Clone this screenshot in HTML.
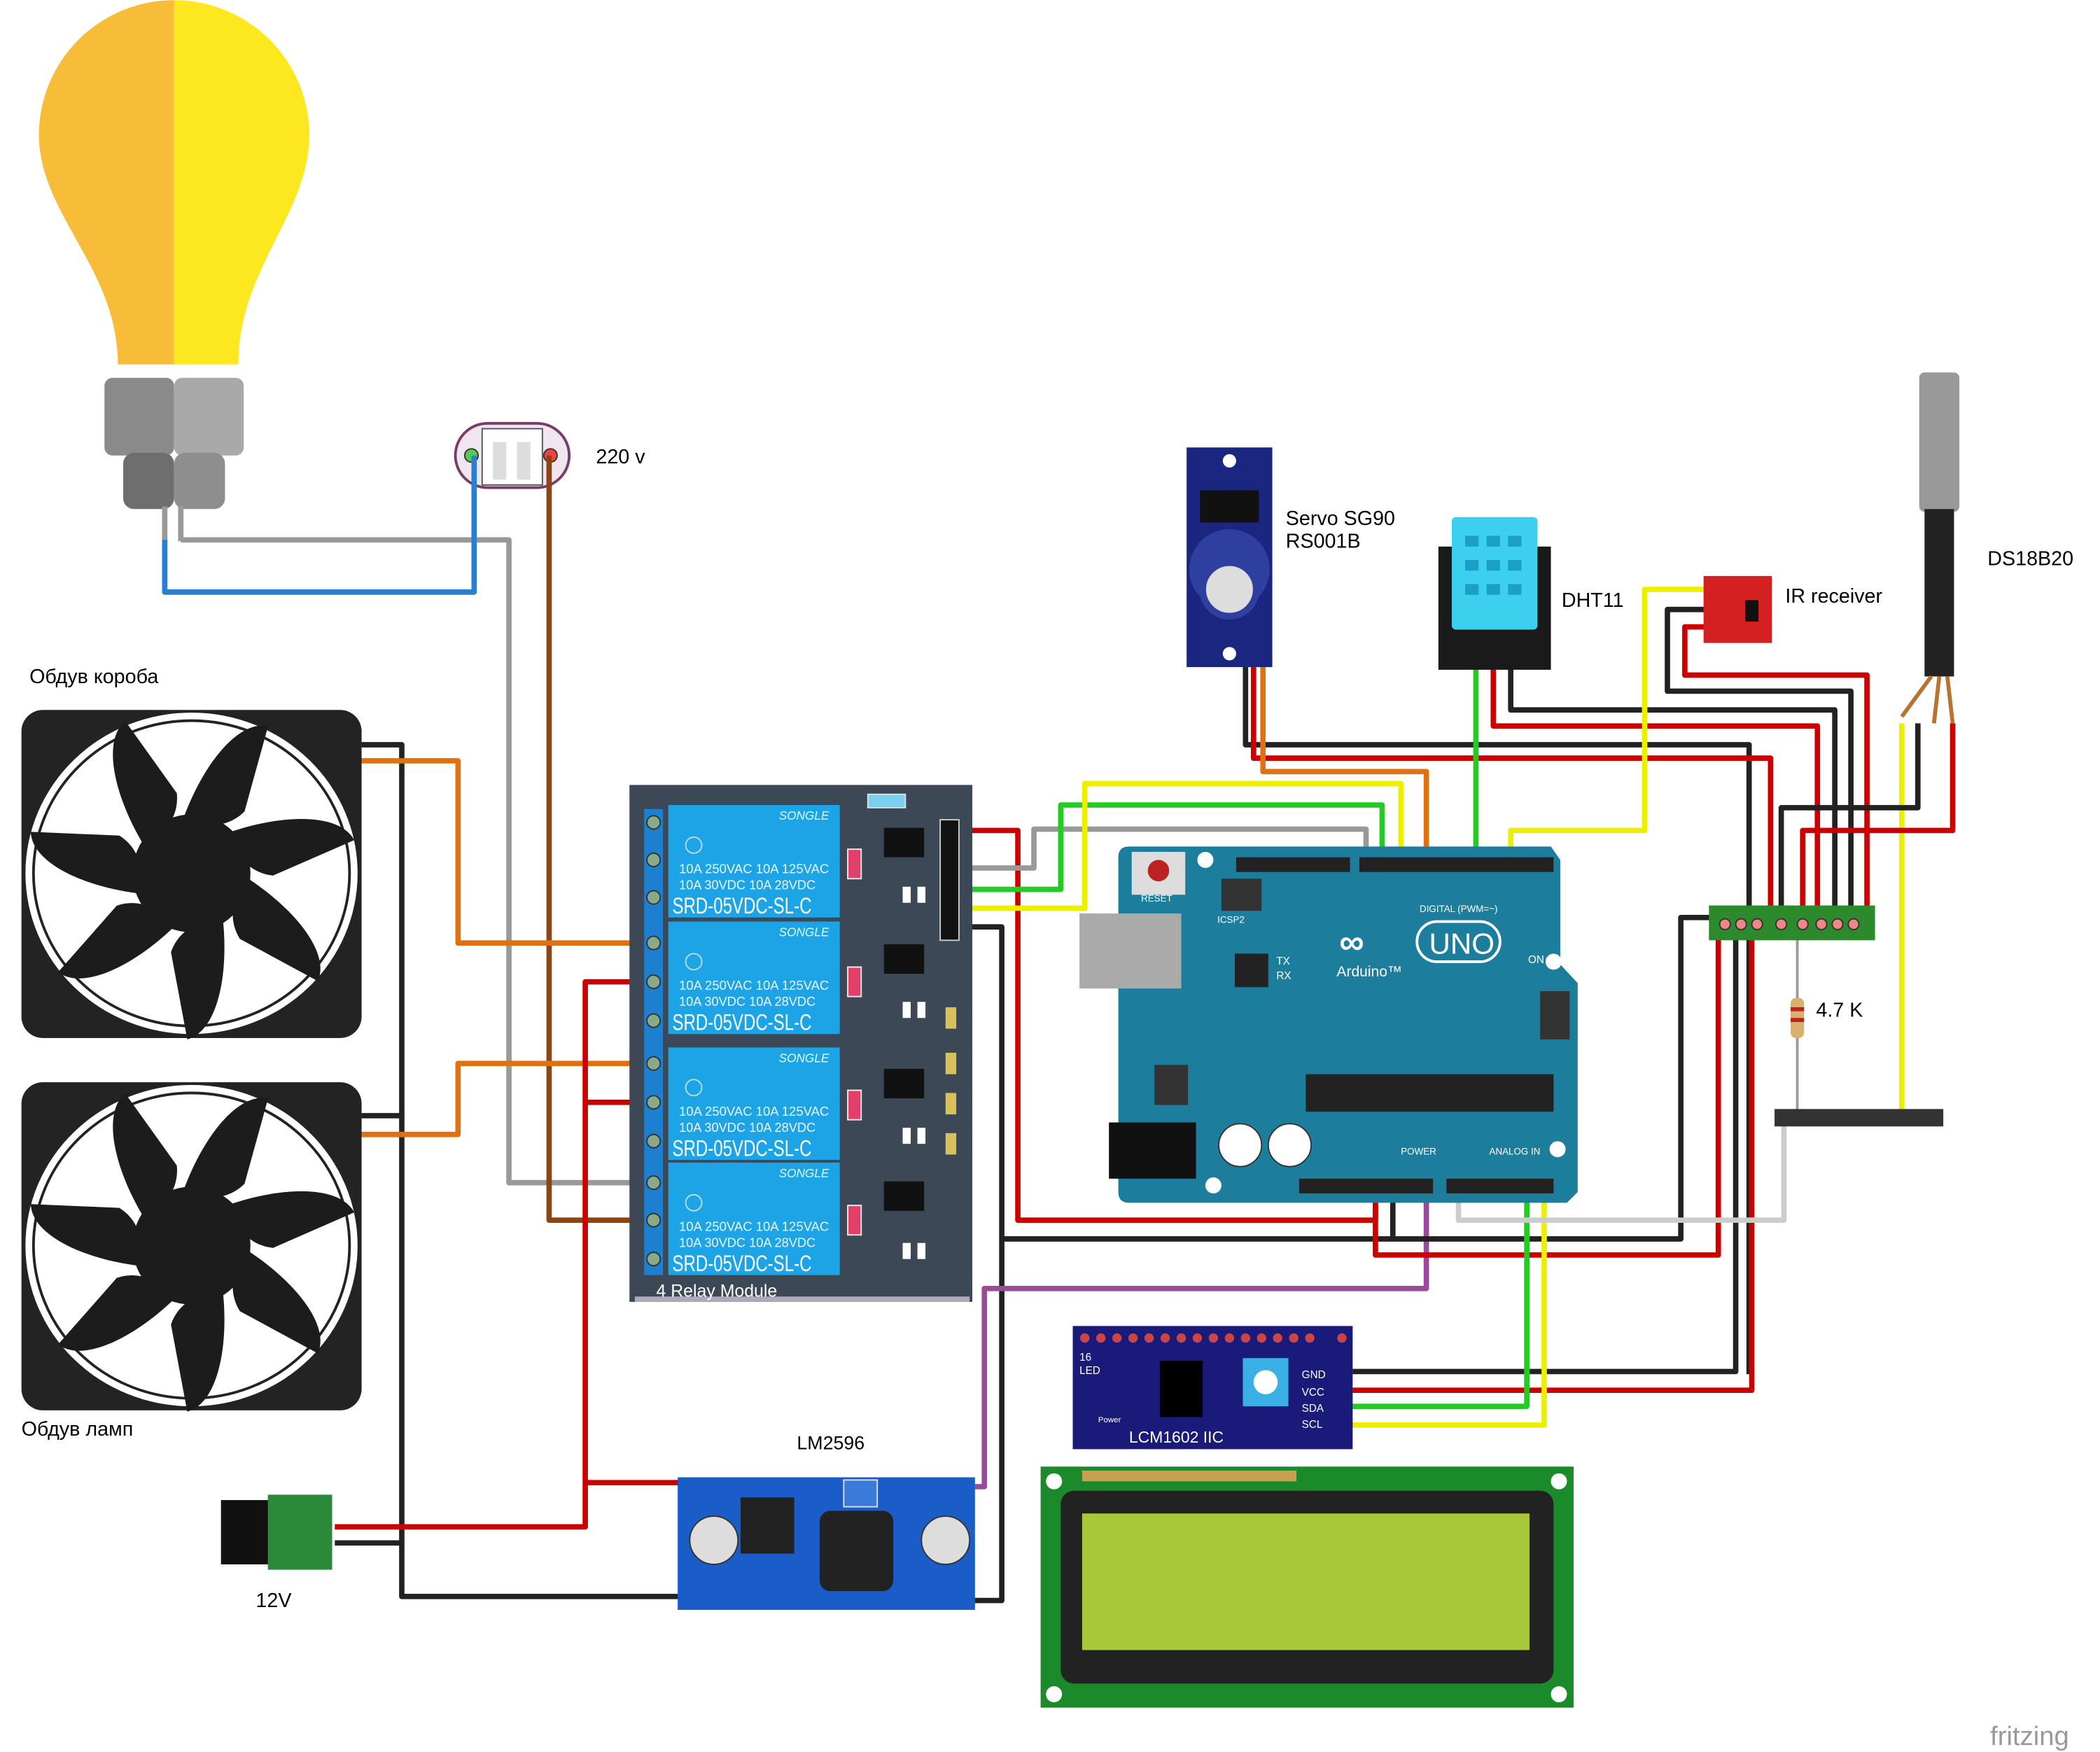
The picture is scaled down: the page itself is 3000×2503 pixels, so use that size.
<!DOCTYPE html>
<html><head><meta charset="utf-8"><style>html,body{margin:0;padding:0;background:#fff}svg{display:block}</style></head>
<body>
<svg width="3000" height="2503" viewBox="0 0 1568 1308" xmlns="http://www.w3.org/2000/svg" font-family="Liberation Sans, DejaVu Sans, sans-serif">
<defs>
<g id="blade"><path d="M-6,-36 C8,-75 32,-104 52,-100 L36,-42 C26,-32 12,-30 -6,-36 Z" fill="#1c1c1c"/></g>
<g id="fan">
<rect x="0" y="0" width="254" height="245" rx="16" fill="#232323"/>
<ellipse cx="127" cy="122" rx="124" ry="120" fill="#fff"/>
<ellipse cx="127" cy="122" rx="118" ry="114" fill="#fff" stroke="#232323" stroke-width="2"/>
<g transform="translate(127,122)">
<use href="#blade" transform="rotate(0) scale(1.1)"/><use href="#blade" transform="rotate(51) scale(1.1)"/><use href="#blade" transform="rotate(103) scale(1.1)"/><use href="#blade" transform="rotate(154) scale(1.1)"/><use href="#blade" transform="rotate(206) scale(1.1)"/><use href="#blade" transform="rotate(257) scale(1.1)"/><use href="#blade" transform="rotate(309) scale(1.1)"/>
<circle r="44" fill="#1c1c1c"/></g>
</g>
<g id="relay">
<rect x="0" y="0" width="128" height="84" fill="#1ca4e6"/>
<text x="120" y="11" font-size="9" fill="#dff" font-style="italic" text-anchor="end">SONGLE</text>
<circle cx="19" cy="30" r="6" fill="none" stroke="#bde"/>
<text x="8" y="51" font-size="9.5" fill="#eaf6ff" textLength="112" lengthAdjust="spacingAndGlyphs">10A 250VAC  10A 125VAC</text>
<text x="8" y="63" font-size="9.5" fill="#eaf6ff" textLength="102" lengthAdjust="spacingAndGlyphs">10A  30VDC  10A  28VDC</text>
<text x="3" y="81" font-size="17" fill="#fff" textLength="104" lengthAdjust="spacingAndGlyphs">SRD-05VDC-SL-C</text>
</g>
</defs>

<!-- Bulb -->
<path d="M130,0 A101,101 0 0 0 29,100 C29,160 88,200 88,272 L130,272 Z" fill="#f8bd38"/>
<path d="M130,0 A101,101 0 0 1 231,100 C231,160 178,200 178,272 L130,272 Z" fill="#fde81f"/>
<rect x="78" y="282" width="52" height="58" rx="6" fill="#8a8a8a"/><rect x="130" y="282" width="52" height="58" rx="6" fill="#a9a9a9"/>
<rect x="92" y="338" width="38" height="42" rx="8" fill="#6e6e6e"/><rect x="130" y="338" width="38" height="42" rx="8" fill="#8e8e8e"/>
<rect x="121" y="378" width="4" height="26" fill="#999"/><rect x="133" y="378" width="4" height="26" fill="#999"/>

<!-- 220v connector -->
<rect x="340" y="316" width="85" height="48" rx="24" fill="#f0e6f0" stroke="#7a3a6a" stroke-width="2"/>
<rect x="360" y="320" width="45" height="42" fill="#fff" stroke="#555"/>
<rect x="368" y="330" width="10" height="28" fill="#ddd"/><rect x="386" y="330" width="10" height="28" fill="#ddd"/>
<circle cx="352" cy="340" r="5" fill="#5c5" stroke="#333"/><circle cx="411" cy="340" r="5" fill="#e44" stroke="#333"/>
<text x="445" y="346" font-size="15">220 v</text>

<!-- wires -->
<g fill="none" stroke-width="4" stroke-linejoin="round">
<path d="M135,403 H380 V883 H490" stroke="#999"/>
<path d="M123,403 V442 H354 V340" stroke="#2a7fd0"/>
<path d="M410,340 V911 H490" stroke="#8b4513"/>
<path d="M270,556 H300 V1192 H510" stroke="#222"/>
<path d="M270,833 H300" stroke="#222"/>
<path d="M270,568 H342 V704 H490" stroke="#e07010"/>
<path d="M270,847 H342 V794 H490" stroke="#e07010"/>
<path d="M250,1140 H437 V733 H490" stroke="#c00"/>
<path d="M437,823 H490" stroke="#c00"/>
<path d="M437,1107 H515" stroke="#c00"/>
<path d="M250,1152 H300" stroke="#222"/>
<path d="M712,620 H760 V911 H1027 V885" stroke="#c00"/>
<path d="M712,648 H772 V619 H1020 V640" stroke="#999"/>
<path d="M712,664 H792 V601 H1032 V640" stroke="#2c2"/>
<path d="M712,678 H810 V585 H1046 V640" stroke="#ee0"/>
<path d="M712,692 H748 V1195 H720" stroke="#222"/>
<path d="M748,925 H1040 V885" stroke="#222"/>
<path d="M728,1110 H735 V962 H1065 V885" stroke="#9a4a9a"/>
<path d="M930,498 V556 H1306 V1026" stroke="#222"/>
<path d="M936,498 V566 H1322 V690" stroke="#c00"/>
<path d="M943,498 V576 H1065 V640" stroke="#e07010"/>
<path d="M1102,490 V640" stroke="#2c2"/>
<path d="M1115,490 V542 H1357 V690" stroke="#c00"/>
<path d="M1128,490 V530 H1370 V690" stroke="#222"/>
<path d="M1278,440 H1228 V620 H1128 V640" stroke="#ee0"/>
<path d="M1278,455 H1245 V516 H1382 V690" stroke="#222"/>
<path d="M1278,468 H1258 V504 H1394 V690" stroke="#c00"/>
<path d="M1420,540 V835" stroke="#ee0"/>
<path d="M1432,540 V603 H1330 V690" stroke="#222"/>
<path d="M1458,540 V620 H1346 V690" stroke="#c00"/>
<path d="M1295,685 H1255 V925 H1040" stroke="#222"/>
<path d="M1283,690 V937 H1027 V885" stroke="#c00"/>
<path d="M1296,690 V1024 H1010" stroke="#222"/>
<path d="M1308,690 V1038 H1010" stroke="#c00"/>
<path d="M1140,885 V1050 H1010" stroke="#2c2"/>
<path d="M1153,885 V1064 H1010" stroke="#ee0"/>
<path d="M1089,885 V911 H1332 V835" stroke="#ccc"/>
</g>
<line x1="1342" y1="700" x2="1342" y2="835" stroke="#999" stroke-width="2"/>

<!-- Fans -->
<use href="#fan" x="16" y="530"/>
<use href="#fan" x="16" y="808"/>
<text x="22" y="510" font-size="15">Обдув короба</text>
<text x="16" y="1072" font-size="15">Обдув ламп</text>

<!-- Relay module -->
<rect x="470" y="586" width="256" height="386" fill="#3d4857"/>
<rect x="474" y="968" width="250" height="4" fill="#aab"/>
<rect x="481" y="604" width="14" height="348" fill="#1c7fd0"/>
<g fill="#8a8" stroke="#333"><circle cx="488" cy="614" r="5"/><circle cx="488" cy="642" r="5"/><circle cx="488" cy="670" r="5"/><circle cx="488" cy="704" r="5"/><circle cx="488" cy="733" r="5"/><circle cx="488" cy="762" r="5"/><circle cx="488" cy="794" r="5"/><circle cx="488" cy="823" r="5"/><circle cx="488" cy="852" r="5"/><circle cx="488" cy="883" r="5"/><circle cx="488" cy="911" r="5"/><circle cx="488" cy="940" r="5"/></g>
<use href="#relay" x="499" y="601"/><use href="#relay" x="499" y="688"/><use href="#relay" x="499" y="782"/><use href="#relay" x="499" y="868"/>
<g fill="#111"><rect x="660" y="618" width="30" height="22"/><rect x="660" y="705" width="30" height="22"/><rect x="660" y="798" width="30" height="22"/><rect x="660" y="882" width="30" height="22"/></g>
<g fill="#e0406a" stroke="#eee"><rect x="633" y="634" width="10" height="22"/><rect x="633" y="722" width="10" height="22"/><rect x="633" y="814" width="10" height="22"/><rect x="633" y="900" width="10" height="22"/></g>
<g fill="#fff"><rect x="674" y="662" width="6" height="12"/><rect x="685" y="662" width="6" height="12"/><rect x="674" y="748" width="6" height="12"/><rect x="685" y="748" width="6" height="12"/><rect x="674" y="842" width="6" height="12"/><rect x="685" y="842" width="6" height="12"/><rect x="674" y="928" width="6" height="12"/><rect x="685" y="928" width="6" height="12"/></g>
<g fill="#d9c15a"><rect x="706" y="752" width="8" height="16"/><rect x="706" y="786" width="8" height="16"/><rect x="706" y="816" width="8" height="16"/><rect x="706" y="846" width="8" height="16"/></g>
<rect x="648" y="593" width="28" height="10" fill="#7cd0f0" stroke="#ddd"/>
<rect x="702" y="612" width="14" height="90" fill="#111" stroke="#ccc"/>
<text x="490" y="968" font-size="13" fill="#fff">4 Relay Module</text>

<!-- Arduino -->
<path d="M843,632 H1158 L1165,642 V720 L1178,734 V890 L1170,898 H843 Q835,898 835,890 V640 Q835,632 843,632 Z" fill="#1d7d9c"/>
<rect x="845" y="636" width="40" height="32" fill="#ddd"/><circle cx="865" cy="650" r="8" fill="#b22"/>
<rect x="923" y="640" width="85" height="11" fill="#222"/><rect x="1015" y="640" width="145" height="11" fill="#222"/>
<rect x="806" y="682" width="76" height="56" fill="#aaa"/>
<rect x="922" y="712" width="25" height="25" fill="#222"/>
<rect x="975" y="802" width="185" height="28" fill="#222"/>
<rect x="828" y="838" width="65" height="42" fill="#111"/>
<circle cx="926" cy="855" r="16" fill="#fff" stroke="#333"/><circle cx="963" cy="855" r="16" fill="#fff" stroke="#333"/>
<rect x="970" y="880" width="100" height="11" fill="#222"/><rect x="1080" y="880" width="80" height="11" fill="#222"/>
<rect x="1150" y="740" width="22" height="36" fill="#333"/>
<rect x="862" y="795" width="25" height="30" fill="#333"/>
<rect x="912" y="656" width="30" height="24" fill="#333"/>
<text x="1000" y="712" font-size="26" fill="#fff" font-weight="bold">∞</text>
<rect x="1058" y="688" width="62" height="30" rx="15" fill="none" stroke="#fff" stroke-width="2"/>
<text x="1067" y="712" font-size="22" fill="#fff">UNO</text>
<text x="998" y="729" font-size="11" fill="#fff">Arduino™</text>
<text x="1060" y="681" font-size="7" fill="#fff">DIGITAL (PWM=~)</text>
<text x="852" y="673" font-size="7" fill="#fff">RESET</text>
<text x="909" y="689" font-size="7" fill="#fff">ICSP2</text>
<text x="953" y="720" font-size="8" fill="#fff">TX</text><text x="953" y="731" font-size="8" fill="#fff">RX</text>
<text x="1141" y="719" font-size="8" fill="#fff">ON</text>
<text x="1046" y="862" font-size="7" fill="#fff">POWER</text><text x="1112" y="862" font-size="7" fill="#fff">ANALOG IN</text>
<circle cx="906" cy="885" r="6" fill="#fff"/><circle cx="1160" cy="718" r="6" fill="#fff"/><circle cx="1163" cy="858" r="6" fill="#fff"/><circle cx="900" cy="642" r="6" fill="#fff"/>

<!-- Servo -->
<rect x="886" y="334" width="64" height="164" fill="#1a2680"/>
<rect x="896" y="366" width="44" height="24" fill="#111"/>
<circle cx="918" cy="425" r="30" fill="#2f3fa0"/><circle cx="918" cy="440" r="20" fill="#ddd" stroke="#2f3fa0" stroke-width="5"/>
<circle cx="918" cy="344" r="5" fill="#fff"/><circle cx="918" cy="488" r="5" fill="#fff"/>
<text x="960" y="392" font-size="15">Servo SG90</text><text x="960" y="409" font-size="15">RS001B</text>

<!-- DHT11 -->
<rect x="1074" y="408" width="84" height="92" fill="#1a1a1a"/>
<rect x="1084" y="386" width="64" height="84" rx="3" fill="#3ccfee"/>
<g fill="#1a9fc8"><rect x="1094" y="400" width="10" height="8"/><rect x="1110" y="400" width="10" height="8"/><rect x="1126" y="400" width="10" height="8"/><rect x="1094" y="418" width="10" height="8"/><rect x="1110" y="418" width="10" height="8"/><rect x="1126" y="418" width="10" height="8"/><rect x="1094" y="436" width="10" height="8"/><rect x="1110" y="436" width="10" height="8"/><rect x="1126" y="436" width="10" height="8"/></g>
<text x="1166" y="453" font-size="15">DHT11</text>

<!-- IR -->
<rect x="1272" y="430" width="51" height="50" fill="#d42020"/>
<rect x="1303" y="448" width="10" height="16" fill="#111"/>
<text x="1333" y="450" font-size="15">IR receiver</text>

<!-- DS18B20 -->
<rect x="1433" y="278" width="30" height="104" rx="4" fill="#999"/>
<rect x="1437" y="380" width="22" height="125" fill="#222"/>
<path d="M1442,505 L1420,535 M1448,505 L1444,540 M1454,505 L1458,540" stroke="#b87333" stroke-width="3"/>
<text x="1484" y="422" font-size="15">DS18B20</text>

<!-- breadboard strips -->
<rect x="1276" y="676" width="124" height="26" fill="#2c8a2c"/>
<g fill="#e88" stroke="#333"><circle cx="1288" cy="690" r="4"/><circle cx="1300" cy="690" r="4"/><circle cx="1312" cy="690" r="4"/><circle cx="1330" cy="690" r="4"/><circle cx="1346" cy="690" r="4"/><circle cx="1360" cy="690" r="4"/><circle cx="1372" cy="690" r="4"/><circle cx="1384" cy="690" r="4"/></g>
<rect x="1325" y="828" width="126" height="13" fill="#333"/>
<rect x="1337" y="745" width="10" height="30" rx="4" fill="#d9b070"/>
<rect x="1337" y="752" width="10" height="3" fill="#b22"/><rect x="1337" y="760" width="10" height="3" fill="#b22"/>
<text x="1356" y="759" font-size="15">4.7 K</text>

<!-- LCM1602 IIC -->
<rect x="801" y="990" width="209" height="92" fill="#1a1a7a"/>
<g fill="#c44">
<circle cx="810" cy="999" r="3.5"/><circle cx="822" cy="999" r="3.5"/><circle cx="834" cy="999" r="3.5"/><circle cx="846" cy="999" r="3.5"/><circle cx="858" cy="999" r="3.5"/><circle cx="870" cy="999" r="3.5"/><circle cx="882" cy="999" r="3.5"/><circle cx="894" cy="999" r="3.5"/><circle cx="906" cy="999" r="3.5"/><circle cx="918" cy="999" r="3.5"/><circle cx="930" cy="999" r="3.5"/><circle cx="942" cy="999" r="3.5"/><circle cx="954" cy="999" r="3.5"/><circle cx="966" cy="999" r="3.5"/><circle cx="978" cy="999" r="3.5"/><circle cx="1002" cy="999" r="3.5"/></g>
<rect x="866" y="1016" width="32" height="42" fill="#000"/>
<rect x="928" y="1014" width="34" height="36" fill="#3bb0e6"/><circle cx="945" cy="1032" r="9" fill="#fff"/>
<text x="806" y="1016" font-size="8" fill="#fff">16</text><text x="806" y="1026" font-size="8" fill="#fff">LED</text>
<text x="820" y="1062" font-size="6" fill="#fff">Power</text>
<g font-size="8" fill="#fff"><text x="972" y="1029">GND</text><text x="972" y="1042">VCC</text><text x="972" y="1054">SDA</text><text x="972" y="1066">SCL</text></g>
<text x="843" y="1077" font-size="12" fill="#fff">LCM1602 IIC</text>

<!-- LCD -->
<rect x="777" y="1095" width="398" height="180" fill="#1a8a2a"/>
<rect x="792" y="1113" width="368" height="144" rx="10" fill="#222"/>
<rect x="808" y="1130" width="334" height="102" fill="#a8c83a"/>
<g fill="#fff"><circle cx="787" cy="1106" r="6"/><circle cx="1164" cy="1106" r="6"/><circle cx="787" cy="1265" r="6"/><circle cx="1164" cy="1265" r="6"/></g>
<rect x="808" y="1098" width="160" height="8" fill="#c8a050"/>

<!-- LM2596 -->
<rect x="506" y="1103" width="222" height="99" fill="#1a5cc8"/>
<circle cx="533" cy="1150" r="18" fill="#ddd" stroke="#333"/><circle cx="706" cy="1150" r="18" fill="#ddd" stroke="#333"/>
<rect x="553" y="1118" width="40" height="42" fill="#222"/>
<rect x="612" y="1128" width="55" height="60" rx="8" fill="#222"/>
<rect x="630" y="1105" width="25" height="20" fill="#3a7ad8" stroke="#ddd"/>
<text x="595" y="1082" font-size="14">LM2596</text>

<!-- DC jack -->
<rect x="165" y="1120" width="70" height="48" fill="#111"/>
<rect x="200" y="1116" width="48" height="56" fill="#2a8a3a"/>
<text x="191" y="1200" font-size="15">12V</text>

<text x="1486" y="1303" font-size="20" fill="#999">fritzing</text>
</svg>
</body></html>
